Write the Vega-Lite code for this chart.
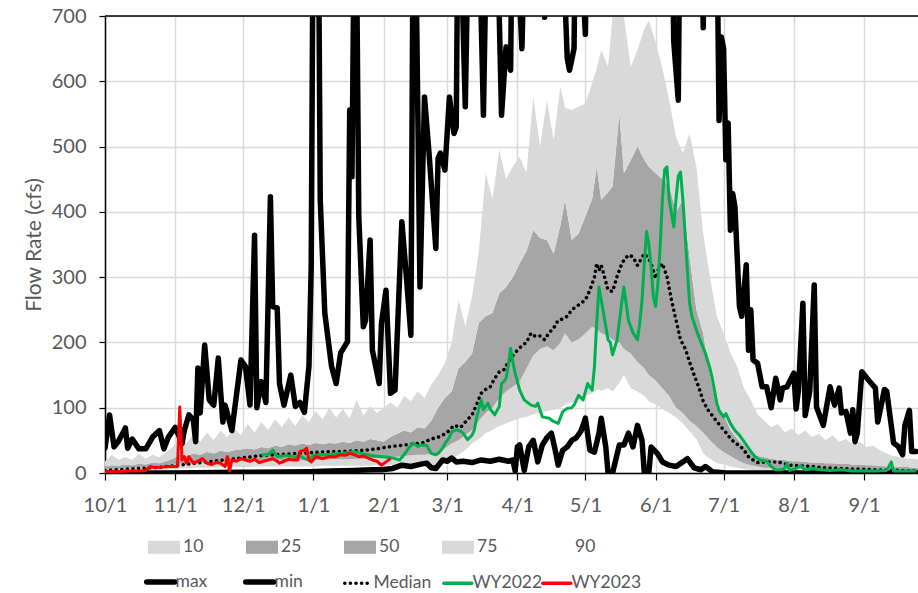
{
"$schema":"https://vega.github.io/schema/vega-lite/v6.json",
"width":813,"height":457,
"autosize":{"type":"none"},
"padding":{"left":105,"top":16,"right":0,"bottom":120},
"background":"white",
"config":{"view":{"stroke":null},"font":"Lato"},
"datasets":{
"bands":[
{"date":"2021-10-01","p10":2,"p25":5,"p75":10,"p90":18},
{"date":"2021-10-04","p10":3,"p25":6,"p75":12,"p90":28},
{"date":"2021-10-07","p10":3,"p25":6,"p75":11,"p90":20},
{"date":"2021-10-10","p10":3,"p25":7,"p75":13,"p90":25},
{"date":"2021-10-13","p10":4,"p25":7,"p75":12,"p90":20},
{"date":"2021-10-16","p10":4,"p25":8,"p75":14,"p90":30},
{"date":"2021-10-19","p10":4,"p25":8,"p75":13,"p90":22},
{"date":"2021-10-22","p10":5,"p25":9,"p75":16,"p90":28},
{"date":"2021-10-25","p10":5,"p25":9,"p75":15,"p90":24},
{"date":"2021-10-28","p10":5,"p25":10,"p75":18,"p90":32},
{"date":"2021-10-31","p10":6,"p25":12,"p75":22,"p90":40},
{"date":"2021-11-03","p10":7,"p25":14,"p75":28,"p90":55},
{"date":"2021-11-06","p10":7,"p25":15,"p75":26,"p90":45},
{"date":"2021-11-09","p10":8,"p25":15,"p75":30,"p90":60},
{"date":"2021-11-12","p10":8,"p25":16,"p75":28,"p90":48},
{"date":"2021-11-15","p10":8,"p25":16,"p75":32,"p90":62},
{"date":"2021-11-18","p10":8,"p25":17,"p75":30,"p90":50},
{"date":"2021-11-21","p10":9,"p25":17,"p75":34,"p90":65},
{"date":"2021-11-24","p10":9,"p25":18,"p75":32,"p90":55},
{"date":"2021-11-27","p10":9,"p25":18,"p75":35,"p90":68},
{"date":"2021-11-30","p10":9,"p25":18,"p75":36,"p90":58},
{"date":"2021-12-03","p10":9,"p25":18,"p75":38,"p90":75},
{"date":"2021-12-06","p10":10,"p25":18,"p75":36,"p90":62},
{"date":"2021-12-09","p10":10,"p25":19,"p75":40,"p90":78},
{"date":"2021-12-12","p10":10,"p25":19,"p75":38,"p90":66},
{"date":"2021-12-15","p10":10,"p25":19,"p75":42,"p90":82},
{"date":"2021-12-18","p10":10,"p25":20,"p75":40,"p90":70},
{"date":"2021-12-21","p10":10,"p25":20,"p75":44,"p90":85},
{"date":"2021-12-24","p10":10,"p25":20,"p75":42,"p90":72},
{"date":"2021-12-27","p10":10,"p25":20,"p75":45,"p90":88},
{"date":"2021-12-30","p10":10,"p25":20,"p75":43,"p90":78},
{"date":"2022-01-02","p10":10,"p25":20,"p75":46,"p90":95},
{"date":"2022-01-05","p10":11,"p25":20,"p75":44,"p90":82},
{"date":"2022-01-08","p10":11,"p25":21,"p75":46,"p90":100},
{"date":"2022-01-11","p10":11,"p25":21,"p75":45,"p90":85},
{"date":"2022-01-14","p10":11,"p25":21,"p75":48,"p90":98},
{"date":"2022-01-17","p10":11,"p25":21,"p75":46,"p90":84},
{"date":"2022-01-20","p10":11,"p25":22,"p75":50,"p90":112},
{"date":"2022-01-23","p10":11,"p25":22,"p75":48,"p90":88},
{"date":"2022-01-26","p10":11,"p25":22,"p75":52,"p90":102},
{"date":"2022-01-29","p10":12,"p25":23,"p75":50,"p90":92},
{"date":"2022-02-01","p10":12,"p25":24,"p75":48,"p90":100},
{"date":"2022-02-04","p10":12,"p25":25,"p75":55,"p90":108},
{"date":"2022-02-07","p10":12,"p25":25,"p75":60,"p90":100},
{"date":"2022-02-10","p10":12,"p25":26,"p75":65,"p90":118},
{"date":"2022-02-13","p10":12,"p25":27,"p75":62,"p90":110},
{"date":"2022-02-16","p10":12,"p25":28,"p75":70,"p90":125},
{"date":"2022-02-19","p10":12,"p25":28,"p75":68,"p90":115},
{"date":"2022-02-22","p10":12,"p25":29,"p75":80,"p90":135},
{"date":"2022-02-25","p10":10,"p25":30,"p75":100,"p90":150},
{"date":"2022-02-28","p10":15,"p25":38,"p75":115,"p90":168},
{"date":"2022-03-03","p10":22,"p25":45,"p75":125,"p90":200},
{"date":"2022-03-06","p10":28,"p25":50,"p75":160,"p90":265},
{"date":"2022-03-09","p10":35,"p25":58,"p75":170,"p90":225},
{"date":"2022-03-12","p10":45,"p25":66,"p75":183,"p90":270},
{"date":"2022-03-15","p10":52,"p25":80,"p75":230,"p90":340},
{"date":"2022-03-18","p10":61,"p25":92,"p75":240,"p90":459},
{"date":"2022-03-21","p10":66,"p25":100,"p75":245,"p90":420},
{"date":"2022-03-24","p10":72,"p25":115,"p75":275,"p90":495},
{"date":"2022-03-27","p10":76,"p25":125,"p75":285,"p90":450},
{"date":"2022-03-30","p10":80,"p25":132,"p75":300,"p90":470},
{"date":"2022-04-02","p10":84,"p25":140,"p75":321,"p90":484},
{"date":"2022-04-05","p10":86,"p25":160,"p75":340,"p90":460},
{"date":"2022-04-08","p10":90,"p25":180,"p75":372,"p90":576},
{"date":"2022-04-11","p10":92,"p25":190,"p75":360,"p90":500},
{"date":"2022-04-14","p10":95,"p25":194,"p75":357,"p90":571},
{"date":"2022-04-17","p10":97,"p25":188,"p75":336,"p90":510},
{"date":"2022-04-20","p10":100,"p25":200,"p75":380,"p90":592},
{"date":"2022-04-22","p10":105,"p25":214,"p75":418,"p90":560},
{"date":"2022-04-25","p10":108,"p25":200,"p75":357,"p90":556},
{"date":"2022-04-28","p10":112,"p25":205,"p75":367,"p90":561},
{"date":"2022-05-01","p10":118,"p25":214,"p75":393,"p90":566},
{"date":"2022-05-04","p10":122,"p25":224,"p75":420,"p90":597},
{"date":"2022-05-06","p10":128,"p25":220,"p75":469,"p90":620},
{"date":"2022-05-08","p10":126,"p25":214,"p75":418,"p90":648},
{"date":"2022-05-11","p10":130,"p25":210,"p75":430,"p90":622},
{"date":"2022-05-13","p10":125,"p25":204,"p75":439,"p90":700},
{"date":"2022-05-16","p10":138,"p25":200,"p75":551,"p90":700},
{"date":"2022-05-18","p10":150,"p25":190,"p75":459,"p90":700},
{"date":"2022-05-21","p10":130,"p25":183,"p75":479,"p90":622},
{"date":"2022-05-24","p10":125,"p25":170,"p75":500,"p90":648},
{"date":"2022-05-27","p10":118,"p25":160,"p75":480,"p90":680},
{"date":"2022-05-29","p10":110,"p25":150,"p75":469,"p90":693},
{"date":"2022-06-01","p10":105,"p25":142,"p75":459,"p90":660},
{"date":"2022-06-04","p10":98,"p25":130,"p75":450,"p90":620},
{"date":"2022-06-07","p10":92,"p25":118,"p75":439,"p90":571},
{"date":"2022-06-10","p10":85,"p25":100,"p75":400,"p90":515},
{"date":"2022-06-13","p10":76,"p25":92,"p75":418,"p90":490},
{"date":"2022-06-16","p10":64,"p25":80,"p75":330,"p90":520},
{"date":"2022-06-19","p10":52,"p25":72,"p75":250,"p90":469},
{"date":"2022-06-22","p10":30,"p25":62,"p75":214,"p90":367},
{"date":"2022-06-25","p10":22,"p25":50,"p75":150,"p90":300},
{"date":"2022-06-28","p10":15,"p25":40,"p75":100,"p90":240},
{"date":"2022-07-01","p10":13,"p25":32,"p75":90,"p90":214},
{"date":"2022-07-04","p10":10,"p25":26,"p75":66,"p90":184},
{"date":"2022-07-07","p10":8,"p25":20,"p75":52,"p90":163},
{"date":"2022-07-10","p10":6,"p25":15,"p75":42,"p90":130},
{"date":"2022-07-13","p10":5,"p25":12,"p75":30,"p90":112},
{"date":"2022-07-16","p10":4,"p25":10,"p75":26,"p90":90},
{"date":"2022-07-19","p10":4,"p25":8,"p75":24,"p90":80},
{"date":"2022-07-22","p10":3,"p25":8,"p75":22,"p90":70},
{"date":"2022-07-25","p10":3,"p25":7,"p75":20,"p90":75},
{"date":"2022-07-28","p10":3,"p25":7,"p75":20,"p90":62},
{"date":"2022-07-31","p10":3,"p25":6,"p75":18,"p90":68},
{"date":"2022-08-03","p10":3,"p25":6,"p75":18,"p90":58},
{"date":"2022-08-06","p10":2,"p25":6,"p75":17,"p90":65},
{"date":"2022-08-09","p10":2,"p25":5,"p75":16,"p90":55},
{"date":"2022-08-12","p10":2,"p25":5,"p75":16,"p90":60},
{"date":"2022-08-15","p10":2,"p25":5,"p75":15,"p90":50},
{"date":"2022-08-18","p10":2,"p25":5,"p75":15,"p90":58},
{"date":"2022-08-21","p10":2,"p25":5,"p75":14,"p90":48},
{"date":"2022-08-24","p10":2,"p25":4,"p75":14,"p90":52},
{"date":"2022-08-27","p10":2,"p25":4,"p75":13,"p90":44},
{"date":"2022-08-30","p10":2,"p25":4,"p75":13,"p90":48},
{"date":"2022-09-02","p10":2,"p25":4,"p75":12,"p90":40},
{"date":"2022-09-05","p10":2,"p25":4,"p75":12,"p90":42},
{"date":"2022-09-08","p10":2,"p25":4,"p75":11,"p90":35},
{"date":"2022-09-11","p10":2,"p25":4,"p75":10,"p90":30},
{"date":"2022-09-14","p10":2,"p25":3,"p75":10,"p90":26},
{"date":"2022-09-17","p10":2,"p25":3,"p75":9,"p90":24},
{"date":"2022-09-20","p10":2,"p25":3,"p75":9,"p90":22},
{"date":"2022-09-23","p10":2,"p25":3,"p75":8,"p90":22},
{"date":"2022-09-26","p10":2,"p25":3,"p75":8,"p90":20}
],
"max":[
{"date":"2021-10-01","v":38},{"date":"2021-10-03","v":89},{"date":"2021-10-05","v":40},{"date":"2021-10-07","v":49},{"date":"2021-10-10","v":69},{"date":"2021-10-11","v":38},{"date":"2021-10-13","v":52},{"date":"2021-10-16","v":37},{"date":"2021-10-19","v":37},{"date":"2021-10-22","v":55},{"date":"2021-10-25","v":65},{"date":"2021-10-27","v":37},{"date":"2021-10-29","v":55},
{"date":"2021-11-01","v":70},{"date":"2021-11-04","v":45},{"date":"2021-11-05","v":65},{"date":"2021-11-07","v":89},{"date":"2021-11-09","v":81},{"date":"2021-11-10","v":48},{"date":"2021-11-11","v":161},{"date":"2021-11-12","v":92},{"date":"2021-11-14","v":196},{"date":"2021-11-16","v":112},{"date":"2021-11-18","v":104},{"date":"2021-11-20","v":176},{"date":"2021-11-22","v":78},{"date":"2021-11-23","v":104},{"date":"2021-11-26","v":65},{"date":"2021-11-30","v":173},
{"date":"2021-12-02","v":163},{"date":"2021-12-04","v":104},{"date":"2021-12-06","v":364},{"date":"2021-12-07","v":100},{"date":"2021-12-09","v":140},{"date":"2021-12-11","v":108},{"date":"2021-12-13","v":423},{"date":"2021-12-14","v":255},{"date":"2021-12-16","v":253},{"date":"2021-12-17","v":137},{"date":"2021-12-19","v":104},{"date":"2021-12-22","v":150},{"date":"2021-12-24","v":102},{"date":"2021-12-26","v":108},{"date":"2021-12-28","v":93},{"date":"2021-12-30","v":163},{"date":"2021-12-31","v":316},
{"date":"2022-01-01","v":950},{"date":"2022-01-03","v":950},{"date":"2022-01-04","v":418},{"date":"2022-01-06","v":245},{"date":"2022-01-09","v":163},{"date":"2022-01-11","v":137},{"date":"2022-01-13","v":184},{"date":"2022-01-16","v":201},{"date":"2022-01-17","v":556},{"date":"2022-01-18","v":454},{"date":"2022-01-19","v":850},{"date":"2022-01-20","v":800},{"date":"2022-01-21","v":393},{"date":"2022-01-23","v":224},{"date":"2022-01-24","v":234},{"date":"2022-01-26","v":357},{"date":"2022-01-27","v":188},{"date":"2022-01-30","v":137},{"date":"2022-01-31","v":229},
{"date":"2022-02-02","v":280},{"date":"2022-02-04","v":122},{"date":"2022-02-06","v":127},{"date":"2022-02-09","v":385},{"date":"2022-02-11","v":301},{"date":"2022-02-13","v":211},{"date":"2022-02-14","v":850},{"date":"2022-02-15","v":850},{"date":"2022-02-17","v":285},{"date":"2022-02-19","v":576},{"date":"2022-02-21","v":490},{"date":"2022-02-24","v":344},{"date":"2022-02-25","v":482},{"date":"2022-02-26","v":490},{"date":"2022-02-28","v":464},
{"date":"2022-03-02","v":576},{"date":"2022-03-04","v":520},{"date":"2022-03-05","v":530},{"date":"2022-03-06","v":950},{"date":"2022-03-09","v":561},{"date":"2022-03-11","v":950},{"date":"2022-03-14","v":1000},{"date":"2022-03-17","v":548},{"date":"2022-03-19","v":950},{"date":"2022-03-22","v":1000},{"date":"2022-03-25","v":548},{"date":"2022-03-27","v":653},{"date":"2022-03-29","v":617},{"date":"2022-03-30","v":950},
{"date":"2022-04-03","v":650},{"date":"2022-04-05","v":950},{"date":"2022-04-09","v":1000},{"date":"2022-04-13","v":698},{"date":"2022-04-14","v":950},{"date":"2022-04-19","v":1000},{"date":"2022-04-23","v":635},{"date":"2022-04-24","v":617},{"date":"2022-04-26","v":650},{"date":"2022-04-27","v":950},
{"date":"2022-05-01","v":672},{"date":"2022-05-02","v":950},{"date":"2022-05-09","v":1100},{"date":"2022-05-19","v":1200},{"date":"2022-05-29","v":1100},
{"date":"2022-06-08","v":900},{"date":"2022-06-09","v":661},{"date":"2022-06-11","v":571},{"date":"2022-06-12","v":950},{"date":"2022-06-16","v":1000},{"date":"2022-06-21","v":900},{"date":"2022-06-22","v":682},{"date":"2022-06-23","v":900},{"date":"2022-06-28","v":850},{"date":"2022-06-29","v":540},{"date":"2022-06-30","v":668},
{"date":"2022-07-01","v":650},{"date":"2022-07-02","v":480},{"date":"2022-07-03","v":536},{"date":"2022-07-04","v":372},{"date":"2022-07-05","v":428},{"date":"2022-07-06","v":408},{"date":"2022-07-08","v":255},{"date":"2022-07-09","v":240},{"date":"2022-07-11","v":319},{"date":"2022-07-12","v":188},{"date":"2022-07-13","v":250},{"date":"2022-07-14","v":173},{"date":"2022-07-16","v":168},{"date":"2022-07-18","v":132},{"date":"2022-07-20","v":132},{"date":"2022-07-22","v":100},{"date":"2022-07-24","v":145},{"date":"2022-07-26","v":112},{"date":"2022-07-27","v":130},{"date":"2022-07-29","v":132},
{"date":"2022-08-01","v":153},{"date":"2022-08-02","v":98},{"date":"2022-08-03","v":126},{"date":"2022-08-05","v":260},{"date":"2022-08-06","v":88},{"date":"2022-08-08","v":125},{"date":"2022-08-10","v":288},{"date":"2022-08-11","v":101},{"date":"2022-08-14","v":73},{"date":"2022-08-17","v":132},{"date":"2022-08-19","v":104},{"date":"2022-08-21","v":130},{"date":"2022-08-22","v":92},{"date":"2022-08-24","v":94},{"date":"2022-08-26","v":61},{"date":"2022-08-27","v":97},{"date":"2022-08-28","v":48},{"date":"2022-08-29","v":61},{"date":"2022-08-31","v":155},
{"date":"2022-09-03","v":142},{"date":"2022-09-06","v":130},{"date":"2022-09-07","v":78},{"date":"2022-09-10","v":128},{"date":"2022-09-11","v":125},{"date":"2022-09-14","v":46},{"date":"2022-09-16","v":41},{"date":"2022-09-18","v":28},{"date":"2022-09-19","v":73},{"date":"2022-09-21","v":96},{"date":"2022-09-22","v":33},{"date":"2022-09-24","v":33}
],
"min":[
{"date":"2021-10-01","v":0},{"date":"2021-10-31","v":0},{"date":"2021-11-30","v":1},{"date":"2021-12-30","v":2},{"date":"2022-01-09","v":3},{"date":"2022-01-19","v":4},{"date":"2022-01-27","v":5},{"date":"2022-01-31","v":5},{"date":"2022-02-05","v":7},{"date":"2022-02-09","v":12},{"date":"2022-02-13","v":10},{"date":"2022-02-18","v":14},{"date":"2022-02-20","v":15},{"date":"2022-02-22","v":8},{"date":"2022-02-24","v":7},{"date":"2022-02-27","v":20},
{"date":"2022-03-01","v":18},{"date":"2022-03-03","v":23},{"date":"2022-03-05","v":17},{"date":"2022-03-08","v":18},{"date":"2022-03-12","v":16},{"date":"2022-03-16","v":20},{"date":"2022-03-20","v":18},{"date":"2022-03-24","v":21},{"date":"2022-03-28","v":18},{"date":"2022-03-30","v":20},{"date":"2022-03-31","v":3},
{"date":"2022-04-01","v":40},{"date":"2022-04-02","v":43},{"date":"2022-04-04","v":4},{"date":"2022-04-06","v":40},{"date":"2022-04-08","v":50},{"date":"2022-04-10","v":17},{"date":"2022-04-12","v":43},{"date":"2022-04-14","v":54},{"date":"2022-04-16","v":61},{"date":"2022-04-18","v":30},{"date":"2022-04-19","v":12},{"date":"2022-04-21","v":35},{"date":"2022-04-23","v":40},{"date":"2022-04-25","v":50},{"date":"2022-04-27","v":54},{"date":"2022-04-29","v":64},{"date":"2022-04-30","v":73},
{"date":"2022-05-01","v":84},{"date":"2022-05-03","v":35},{"date":"2022-05-05","v":32},{"date":"2022-05-07","v":61},{"date":"2022-05-08","v":84},{"date":"2022-05-10","v":40},{"date":"2022-05-11","v":0},{"date":"2022-05-13","v":0},{"date":"2022-05-16","v":43},{"date":"2022-05-18","v":43},{"date":"2022-05-20","v":61},{"date":"2022-05-22","v":40},{"date":"2022-05-24","v":73},{"date":"2022-05-26","v":50},{"date":"2022-05-27","v":0},{"date":"2022-05-29","v":0},{"date":"2022-05-30","v":40},
{"date":"2022-06-02","v":29},{"date":"2022-06-04","v":17},{"date":"2022-06-07","v":12},{"date":"2022-06-10","v":10},{"date":"2022-06-13","v":17},{"date":"2022-06-15","v":22},{"date":"2022-06-18","v":8},{"date":"2022-06-21","v":5},{"date":"2022-06-23","v":10},{"date":"2022-06-26","v":2},{"date":"2022-07-02","v":0},{"date":"2022-09-26","v":0}
],
"median":[
{"date":"2021-10-01","v":4},{"date":"2021-10-06","v":5},{"date":"2021-10-11","v":6},{"date":"2021-10-16","v":7},{"date":"2021-10-21","v":8},{"date":"2021-10-26","v":9},{"date":"2021-10-31","v":11},{"date":"2021-11-05","v":13},{"date":"2021-11-10","v":15},{"date":"2021-11-15","v":17},{"date":"2021-11-20","v":19},{"date":"2021-11-25","v":21},{"date":"2021-11-30","v":23},{"date":"2021-12-05","v":25},{"date":"2021-12-10","v":27},{"date":"2021-12-15","v":28},{"date":"2021-12-20","v":29},{"date":"2021-12-25","v":30},{"date":"2021-12-30","v":31},
{"date":"2022-01-04","v":32},{"date":"2022-01-09","v":33},{"date":"2022-01-14","v":33},{"date":"2022-01-19","v":34},{"date":"2022-01-24","v":35},{"date":"2022-01-29","v":37},{"date":"2022-02-03","v":40},{"date":"2022-02-08","v":42},{"date":"2022-02-13","v":44},{"date":"2022-02-18","v":46},{"date":"2022-02-22","v":52},{"date":"2022-02-26","v":56},
{"date":"2022-03-01","v":62},{"date":"2022-03-04","v":73},{"date":"2022-03-07","v":70},{"date":"2022-03-10","v":82},{"date":"2022-03-12","v":89},{"date":"2022-03-14","v":105},{"date":"2022-03-16","v":122},{"date":"2022-03-18","v":128},{"date":"2022-03-20","v":132},{"date":"2022-03-22","v":145},{"date":"2022-03-24","v":155},{"date":"2022-03-26","v":158},{"date":"2022-03-28","v":170},{"date":"2022-03-30","v":180},
{"date":"2022-04-01","v":188},{"date":"2022-04-03","v":195},{"date":"2022-04-05","v":200},{"date":"2022-04-07","v":214},{"date":"2022-04-09","v":209},{"date":"2022-04-11","v":210},{"date":"2022-04-13","v":204},{"date":"2022-04-15","v":215},{"date":"2022-04-17","v":222},{"date":"2022-04-19","v":234},{"date":"2022-04-21","v":236},{"date":"2022-04-23","v":240},{"date":"2022-04-25","v":250},{"date":"2022-04-27","v":255},{"date":"2022-04-29","v":260},
{"date":"2022-05-01","v":265},{"date":"2022-05-03","v":280},{"date":"2022-05-05","v":300},{"date":"2022-05-06","v":321},{"date":"2022-05-07","v":310},{"date":"2022-05-08","v":318},{"date":"2022-05-09","v":306},{"date":"2022-05-11","v":280},{"date":"2022-05-13","v":278},{"date":"2022-05-15","v":301},{"date":"2022-05-17","v":320},{"date":"2022-05-18","v":326},{"date":"2022-05-20","v":334},{"date":"2022-05-22","v":331},{"date":"2022-05-24","v":318},{"date":"2022-05-26","v":330},{"date":"2022-05-27","v":336},{"date":"2022-05-29","v":328},{"date":"2022-05-30","v":321},
{"date":"2022-06-01","v":298},{"date":"2022-06-02","v":310},{"date":"2022-06-04","v":321},{"date":"2022-06-06","v":301},{"date":"2022-06-08","v":265},{"date":"2022-06-10","v":234},{"date":"2022-06-12","v":204},{"date":"2022-06-14","v":191},{"date":"2022-06-16","v":170},{"date":"2022-06-18","v":150},{"date":"2022-06-20","v":132},{"date":"2022-06-22","v":110},{"date":"2022-06-24","v":97},{"date":"2022-06-26","v":88},{"date":"2022-06-28","v":79},{"date":"2022-06-30","v":70},
{"date":"2022-07-02","v":62},{"date":"2022-07-04","v":53},{"date":"2022-07-06","v":46},{"date":"2022-07-08","v":42},{"date":"2022-07-10","v":35},{"date":"2022-07-12","v":25},{"date":"2022-07-14","v":20},{"date":"2022-07-16","v":16},{"date":"2022-07-20","v":17},{"date":"2022-07-25","v":17},{"date":"2022-07-30","v":12},{"date":"2022-08-04","v":11},{"date":"2022-08-09","v":10},{"date":"2022-08-15","v":8},{"date":"2022-08-22","v":7},{"date":"2022-08-29","v":6},{"date":"2022-09-06","v":5},{"date":"2022-09-16","v":4},{"date":"2022-09-26","v":3}
],
"wy2022":[
{"date":"2021-12-09","v":28},{"date":"2021-12-12","v":28},{"date":"2021-12-14","v":35},{"date":"2021-12-16","v":25},{"date":"2021-12-20","v":27},{"date":"2021-12-24","v":24},{"date":"2021-12-26","v":27},{"date":"2021-12-28","v":22},{"date":"2021-12-30","v":20},
{"date":"2022-01-01","v":27},{"date":"2022-01-04","v":28},{"date":"2022-01-07","v":28},{"date":"2022-01-10","v":29},{"date":"2022-01-14","v":30},{"date":"2022-01-17","v":32},{"date":"2022-01-20","v":32},{"date":"2022-01-22","v":30},{"date":"2022-01-25","v":28},{"date":"2022-01-28","v":26},{"date":"2022-01-31","v":25},
{"date":"2022-02-03","v":24},{"date":"2022-02-05","v":23},{"date":"2022-02-08","v":20},{"date":"2022-02-10","v":28},{"date":"2022-02-12","v":38},{"date":"2022-02-14","v":46},{"date":"2022-02-16","v":41},{"date":"2022-02-18","v":43},{"date":"2022-02-20","v":42},{"date":"2022-02-22","v":30},{"date":"2022-02-24","v":28},{"date":"2022-02-25","v":30},{"date":"2022-02-27","v":38},{"date":"2022-02-28","v":45},
{"date":"2022-03-02","v":55},{"date":"2022-03-03","v":63},{"date":"2022-03-05","v":66},{"date":"2022-03-07","v":64},{"date":"2022-03-08","v":61},{"date":"2022-03-10","v":51},{"date":"2022-03-12","v":58},{"date":"2022-03-13","v":66},{"date":"2022-03-14","v":85},{"date":"2022-03-16","v":112},{"date":"2022-03-17","v":97},{"date":"2022-03-19","v":107},{"date":"2022-03-20","v":98},{"date":"2022-03-22","v":89},{"date":"2022-03-24","v":102},{"date":"2022-03-25","v":137},{"date":"2022-03-26","v":140},{"date":"2022-03-27","v":145},{"date":"2022-03-28","v":165},{"date":"2022-03-29","v":191},{"date":"2022-03-30","v":170},{"date":"2022-03-31","v":153},
{"date":"2022-04-02","v":127},{"date":"2022-04-04","v":112},{"date":"2022-04-07","v":104},{"date":"2022-04-09","v":102},{"date":"2022-04-10","v":107},{"date":"2022-04-12","v":86},{"date":"2022-04-15","v":84},{"date":"2022-04-17","v":79},{"date":"2022-04-19","v":76},{"date":"2022-04-21","v":94},{"date":"2022-04-23","v":99},{"date":"2022-04-25","v":100},{"date":"2022-04-26","v":104},{"date":"2022-04-28","v":119},{"date":"2022-04-30","v":112},
{"date":"2022-05-02","v":137},{"date":"2022-05-04","v":127},{"date":"2022-05-05","v":163},{"date":"2022-05-06","v":230},{"date":"2022-05-07","v":285},{"date":"2022-05-09","v":245},{"date":"2022-05-11","v":204},{"date":"2022-05-12","v":200},{"date":"2022-05-13","v":181},{"date":"2022-05-15","v":204},{"date":"2022-05-17","v":260},{"date":"2022-05-18","v":285},{"date":"2022-05-20","v":234},{"date":"2022-05-22","v":215},{"date":"2022-05-24","v":204},{"date":"2022-05-25","v":230},{"date":"2022-05-26","v":265},{"date":"2022-05-27","v":320},{"date":"2022-05-28","v":370},{"date":"2022-05-29","v":350},{"date":"2022-05-30","v":316},{"date":"2022-05-31","v":270},
{"date":"2022-06-01","v":255},{"date":"2022-06-02","v":290},{"date":"2022-06-03","v":347},{"date":"2022-06-04","v":420},{"date":"2022-06-05","v":465},{"date":"2022-06-06","v":469},{"date":"2022-06-07","v":418},{"date":"2022-06-09","v":377},{"date":"2022-06-10","v":420},{"date":"2022-06-11","v":455},{"date":"2022-06-12","v":461},{"date":"2022-06-13","v":420},{"date":"2022-06-14","v":367},{"date":"2022-06-15","v":310},{"date":"2022-06-16","v":260},{"date":"2022-06-17","v":240},{"date":"2022-06-19","v":219},{"date":"2022-06-21","v":200},{"date":"2022-06-23","v":183},{"date":"2022-06-25","v":160},{"date":"2022-06-26","v":145},{"date":"2022-06-28","v":107},{"date":"2022-06-29","v":96},
{"date":"2022-07-01","v":86},{"date":"2022-07-02","v":91},{"date":"2022-07-04","v":76},{"date":"2022-07-06","v":65},{"date":"2022-07-08","v":58},{"date":"2022-07-10","v":48},{"date":"2022-07-12","v":38},{"date":"2022-07-13","v":33},{"date":"2022-07-15","v":25},{"date":"2022-07-17","v":20},{"date":"2022-07-20","v":18},{"date":"2022-07-22","v":10},{"date":"2022-07-24","v":5},{"date":"2022-07-26","v":5},{"date":"2022-07-28","v":7},{"date":"2022-07-29","v":15},{"date":"2022-07-30","v":4},
{"date":"2022-08-02","v":7},{"date":"2022-08-04","v":11},{"date":"2022-08-06","v":5},{"date":"2022-08-09","v":7},{"date":"2022-08-13","v":5},{"date":"2022-08-17","v":4},{"date":"2022-08-22","v":5},{"date":"2022-08-27","v":3},{"date":"2022-09-01","v":3},{"date":"2022-09-06","v":3},{"date":"2022-09-11","v":4},{"date":"2022-09-13","v":17},{"date":"2022-09-14","v":3},{"date":"2022-09-18","v":3},{"date":"2022-09-24","v":3}
],
"wy2023":[
{"date":"2021-10-01","v":2},{"date":"2021-10-06","v":2},{"date":"2021-10-11","v":3},{"date":"2021-10-16","v":3},{"date":"2021-10-19","v":4},{"date":"2021-10-21","v":10},{"date":"2021-10-23","v":8},{"date":"2021-10-26","v":9},{"date":"2021-10-29","v":10},
{"date":"2021-11-02","v":10},{"date":"2021-11-03","v":101},{"date":"2021-11-04","v":20},{"date":"2021-11-05","v":25},{"date":"2021-11-06","v":15},{"date":"2021-11-07","v":25},{"date":"2021-11-08","v":20},{"date":"2021-11-09","v":15},{"date":"2021-11-11","v":18},{"date":"2021-11-13","v":22},{"date":"2021-11-15","v":15},{"date":"2021-11-17","v":13},{"date":"2021-11-19","v":16},{"date":"2021-11-21","v":15},{"date":"2021-11-23","v":10},{"date":"2021-11-24","v":25},{"date":"2021-11-25","v":3},{"date":"2021-11-26","v":20},{"date":"2021-11-28","v":18},{"date":"2021-11-30","v":22},
{"date":"2021-12-02","v":20},{"date":"2021-12-04","v":18},{"date":"2021-12-06","v":21},{"date":"2021-12-08","v":16},{"date":"2021-12-10","v":18},{"date":"2021-12-12","v":20},{"date":"2021-12-14","v":22},{"date":"2021-12-16","v":18},{"date":"2021-12-17","v":15},{"date":"2021-12-19","v":18},{"date":"2021-12-21","v":21},{"date":"2021-12-23","v":20},{"date":"2021-12-25","v":20},{"date":"2021-12-26","v":33},{"date":"2021-12-28","v":35},{"date":"2021-12-29","v":38},{"date":"2021-12-30","v":20},{"date":"2021-12-31","v":17},
{"date":"2022-01-02","v":25},{"date":"2022-01-05","v":22},{"date":"2022-01-08","v":25},{"date":"2022-01-11","v":25},{"date":"2022-01-13","v":28},{"date":"2022-01-15","v":27},{"date":"2022-01-17","v":30},{"date":"2022-01-19","v":28},{"date":"2022-01-21","v":25},{"date":"2022-01-23","v":26},{"date":"2022-01-25","v":23},{"date":"2022-01-27","v":20},{"date":"2022-01-29","v":18},{"date":"2022-01-31","v":12},{"date":"2022-02-02","v":17},{"date":"2022-02-04","v":22}
]
},
"layer":[
{"data":{"name":"bands"},"mark":{"type":"area","opacity":1,"clip":true},
 "encoding":{
  "x":{"field":"date","type":"temporal","scale":{"type":"utc","domain":[{"year":2021,"month":10,"date":1,"utc":true},{"year":2022,"month":9,"date":24,"hours":19,"utc":true}]},
   "axis":{"title":null,"format":"%-m/%-d","values":[{"year":2021,"month":10,"date":1,"utc":true},{"year":2021,"month":11,"date":1,"utc":true},{"year":2021,"month":12,"date":1,"utc":true},{"year":2022,"month":1,"date":1,"utc":true},{"year":2022,"month":2,"date":1,"utc":true},{"year":2022,"month":3,"date":1,"utc":true},{"year":2022,"month":4,"date":1,"utc":true},{"year":2022,"month":5,"date":1,"utc":true},{"year":2022,"month":6,"date":1,"utc":true},{"year":2022,"month":7,"date":1,"utc":true},{"year":2022,"month":8,"date":1,"utc":true},{"year":2022,"month":9,"date":1,"utc":true}],
    "labelFontSize":20,"labelColor":"#595959","labelFont":"Lato","labelPadding":15,"labelFlush":false,"labelOverlap":false,"tickSize":7,"tickColor":"#000000","tickWidth":1.2,"domainColor":"#000000","domainWidth":1.5,"grid":true,"gridColor":"#d9d9d9","gridWidth":1.5}},
  "y":{"field":"p10","type":"quantitative","scale":{"domain":[0,700],"nice":false,"zero":true},
   "axis":{"values":[0,100,200,300,400,500,600,700],"title":"Flow Rate (cfs)","titleFont":"Lato","titleFontSize":21,"titleFontWeight":"normal","titleColor":"#595959","titlePadding":7,"labelFontSize":20,"labelColor":"#595959","labelFont":"Lato","labelPadding":13,"tickSize":6,"tickColor":"#000000","tickWidth":1.2,"domainColor":"#000000","domainWidth":1.5,"grid":true,"gridColor":"#d9d9d9","gridWidth":1.5}},
  "y2":{"field":"p25"},
  "fill":{"datum":"10","type":"nominal","scale":{"domain":["10","25","50","75","90"],"range":["#d9d9d9","#a6a6a6","#a6a6a6","#d9d9d9","transparent"]},
   "legend":{"title":null,"orient":"none","legendX":43,"legendY":515,"direction":"horizontal","columns":5,"symbolType":"M-1,-0.41H1V0.41H-1Z","symbolSize":1024,"symbolStrokeWidth":0,"symbolOpacity":1,"labelFontSize":17.5,"labelColor":"#595959","labelFont":"Lato","labelOffset":3,"columnPadding":42,"gridAlign":"all","padding":0,"rowPadding":0}}
 }},
{"data":{"name":"bands"},"mark":{"type":"area","opacity":1,"clip":true},
 "encoding":{
  "x":{"field":"date","type":"temporal","scale":{"type":"utc","domain":[{"year":2021,"month":10,"date":1,"utc":true},{"year":2022,"month":9,"date":24,"hours":19,"utc":true}]}},
  "y":{"field":"p25","type":"quantitative","scale":{"domain":[0,700],"nice":false}},
  "y2":{"field":"p75"},
  "fill":{"datum":"25","type":"nominal","scale":{"domain":["10","25","50","75","90"],"range":["#d9d9d9","#a6a6a6","#a6a6a6","#d9d9d9","transparent"]}}
 }},
{"data":{"name":"bands"},"mark":{"type":"area","opacity":1,"clip":true},
 "encoding":{
  "x":{"field":"date","type":"temporal","scale":{"type":"utc","domain":[{"year":2021,"month":10,"date":1,"utc":true},{"year":2022,"month":9,"date":24,"hours":19,"utc":true}]}},
  "y":{"field":"p75","type":"quantitative","scale":{"domain":[0,700],"nice":false}},
  "y2":{"field":"p90"},
  "fill":{"datum":"75","type":"nominal","scale":{"domain":["10","25","50","75","90"],"range":["#d9d9d9","#a6a6a6","#a6a6a6","#d9d9d9","transparent"]}}
 }},
{"data":{"values":[{}]},"mark":{"type":"rule","color":"#000000","strokeWidth":1.5},
 "encoding":{"y":{"datum":700,"type":"quantitative","scale":{"domain":[0,700],"nice":false}}}},
{"data":{"name":"max"},"mark":{"type":"line","strokeWidth":5.5,"strokeJoin":"round","strokeCap":"round","clip":true},
 "encoding":{
  "x":{"field":"date","type":"temporal","scale":{"type":"utc","domain":[{"year":2021,"month":10,"date":1,"utc":true},{"year":2022,"month":9,"date":24,"hours":19,"utc":true}]}},
  "y":{"field":"v","type":"quantitative","scale":{"domain":[0,700],"nice":false}},
  "stroke":{"datum":"max","type":"nominal","scale":{"domain":["max","min","Median","WY2022","WY2023"],"range":["#000000","#000000","#000000","#00b050","#ff0000"]},
   "legend":{"title":null,"orient":"none","legendX":47,"legendY":557,"direction":"horizontal","columns":5,"symbolType":"stroke","symbolSize":784,"labelFontSize":17.5,"labelColor":"#595959","labelFont":"Lato","labelOffset":6,"columnPadding":-12,"gridAlign":"all","padding":0,"rowPadding":0,
    "encode":{"symbols":{"update":{"strokeWidth":{"signal":"datum.value=='max'||datum.value=='min'?5.5:3.5"},"strokeDash":{"signal":"datum.value=='Median'?[0.1,5.5]:[1,0]"},"strokeCap":{"value":"round"}}}}}}
 }},
{"data":{"name":"min"},"mark":{"type":"line","strokeWidth":5.5,"strokeJoin":"round","strokeCap":"round","clip":true},
 "encoding":{
  "x":{"field":"date","type":"temporal","scale":{"type":"utc","domain":[{"year":2021,"month":10,"date":1,"utc":true},{"year":2022,"month":9,"date":24,"hours":19,"utc":true}]}},
  "y":{"field":"v","type":"quantitative","scale":{"domain":[0,700],"nice":false}},
  "stroke":{"datum":"min","type":"nominal","scale":{"domain":["max","min","Median","WY2022","WY2023"],"range":["#000000","#000000","#000000","#00b050","#ff0000"]}}
 }},
{"data":{"name":"median"},"mark":{"type":"line","strokeWidth":3.5,"strokeDash":[0.1,5.5],"strokeCap":"round","clip":true},
 "encoding":{
  "x":{"field":"date","type":"temporal","scale":{"type":"utc","domain":[{"year":2021,"month":10,"date":1,"utc":true},{"year":2022,"month":9,"date":24,"hours":19,"utc":true}]}},
  "y":{"field":"v","type":"quantitative","scale":{"domain":[0,700],"nice":false}},
  "stroke":{"datum":"Median","type":"nominal","scale":{"domain":["max","min","Median","WY2022","WY2023"],"range":["#000000","#000000","#000000","#00b050","#ff0000"]}}
 }},
{"data":{"name":"wy2022"},"mark":{"type":"line","strokeWidth":3,"strokeJoin":"round","clip":true},
 "encoding":{
  "x":{"field":"date","type":"temporal","scale":{"type":"utc","domain":[{"year":2021,"month":10,"date":1,"utc":true},{"year":2022,"month":9,"date":24,"hours":19,"utc":true}]}},
  "y":{"field":"v","type":"quantitative","scale":{"domain":[0,700],"nice":false}},
  "stroke":{"datum":"WY2022","type":"nominal","scale":{"domain":["max","min","Median","WY2022","WY2023"],"range":["#000000","#000000","#000000","#00b050","#ff0000"]}}
 }},
{"data":{"name":"wy2023"},"mark":{"type":"line","strokeWidth":3,"strokeJoin":"round","clip":true},
 "encoding":{
  "x":{"field":"date","type":"temporal","scale":{"type":"utc","domain":[{"year":2021,"month":10,"date":1,"utc":true},{"year":2022,"month":9,"date":24,"hours":19,"utc":true}]}},
  "y":{"field":"v","type":"quantitative","scale":{"domain":[0,700],"nice":false}},
  "stroke":{"datum":"WY2023","type":"nominal","scale":{"domain":["max","min","Median","WY2022","WY2023"],"range":["#000000","#000000","#000000","#00b050","#ff0000"]}}
 }}
]
}
